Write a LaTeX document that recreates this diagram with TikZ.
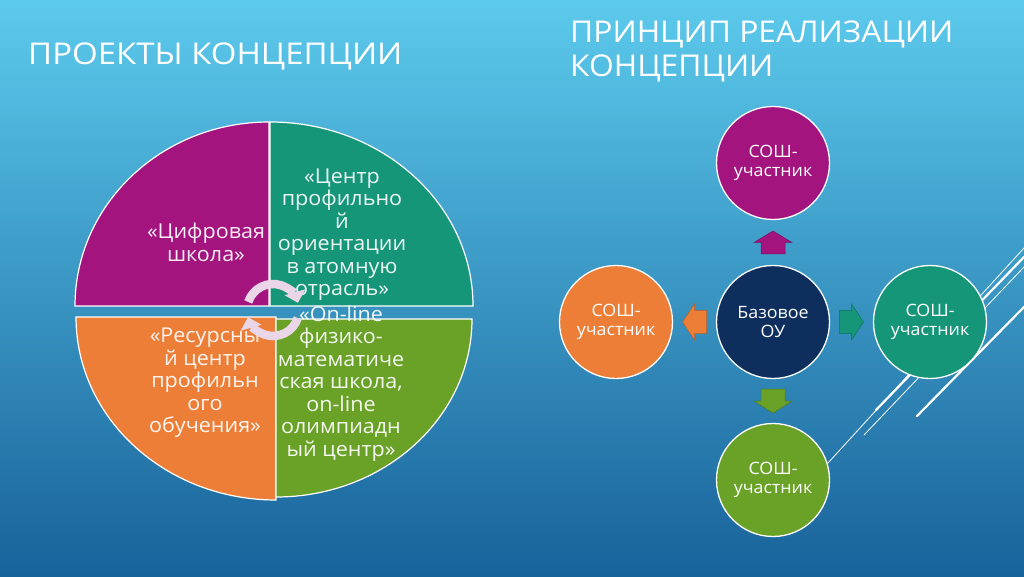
\documentclass[tikz,border=0pt]{standalone}
\usepackage{fontspec}
\setmainfont[FakeStretch=1.05]{Open Sans}
\newfontfamily\titlefont[FakeStretch=1.1]{Open Sans}
\newfontfamily\titlefontB[FakeStretch=1.06]{Open Sans}
\usetikzlibrary{arrows.meta,calc}
\definecolor{cMag}{RGB}{163,20,127}
\definecolor{cTeal}{RGB}{22,150,120}
\definecolor{cOr}{RGB}{236,126,56}
\definecolor{cGr}{RGB}{106,162,40}
\definecolor{cNavy}{RGB}{14,46,94}
\definecolor{bgTop}{RGB}{92,202,236}
\definecolor{bgBot}{RGB}{24,98,154}
\definecolor{cArc}{RGB}{234,214,230}
\begin{document}
\begin{tikzpicture}[x=1pt,y=1pt,
 quad/.style={draw=white, line width=1.2pt},
 qtext/.style={text=white, text opacity=0.92, align=center, inner sep=0pt, font=\fontsize{20.5}{22.5}\selectfont},
 ball/.style={circle, draw=white, line width=1.3pt, minimum size=113pt, inner sep=0pt, text=white, align=center, font=\fontsize{17}{18.5}\selectfont},
 barrow/.style={line width=0.5pt},
 thinline/.style={draw=white, line width=0.8pt, line cap=round},
 thickline/.style={draw=white, line width=2.2pt, line cap=round},
 titletext/.style={text=white, anchor=base west, inner sep=0pt, font=\titlefont\fontsize{30}{34}\selectfont},
 titletextB/.style={text=white, anchor=base west, inner sep=0pt, font=\titlefontB\fontsize{30}{34}\selectfont},
 rotarrow/.style={draw=cArc, line width=8.5pt, -{Triangle[length=11pt,width=21pt]}}
]
\useasboundingbox (0,0) rectangle (1024,576);
\shade[top color=bgTop, bottom color=bgBot] (0,0) rectangle (1024,576);

% titles
\node[titletext] (t1) at (28,511) {ПРОЕКТЫ КОНЦЕПЦИИ};
\node[titletextB] (t2) at (570,533) {ПРИНЦИП РЕАЛИЗАЦИИ};
\node[titletextB] (t3) at (570,499) {КОНЦЕПЦИИ};

% decorative lines
\draw[thinline] (828,113) -- (1024,328);
\draw[thickline] (876,166) -- (1024,319);
\draw[thinline] (864,141) -- (1024,309);
\draw[thickline] (917,160) -- (1024,269);

% pie quadrants
\path[quad, fill=cMag] (269,270) -- (75,270) arc[start angle=180,end angle=90,x radius=194,y radius=184] -- cycle;
\path[quad, fill=cTeal] (270,270) -- (270,454) arc[start angle=90,end angle=0,x radius=203,y radius=184] -- cycle;
\path[quad, fill=cOr] (276,259) -- (76,259) arc[start angle=180,end angle=270,x radius=200,y radius=183] -- cycle;
\path[quad, fill=cGr] (276,257) -- (472,257) arc[start angle=0,end angle=-90,x radius=196,y radius=178] -- cycle;

\node[qtext] (q1) at (206,333.5) {«Цифровая\\школа»};
\node[qtext] (q2) at (342,341.5) {«Центр\\профильно\\й\\ориентации\\в атомную\\отрасль»};
\node[qtext] (q3) at (205,193) {«Ресурсны\\й центр\\профильн\\ого\\обучения»};
\node[qtext] (q4) at (341,192.5) {«On-line\\физико-\\математиче\\ская школа,\\on-line\\олимпиадн\\ый центр»};

% circular arrows
\coordinate (rc) at (273,266);
\draw[rotarrow] ([shift={(162:26)}]rc) arc[start angle=162,end angle=16,radius=26];
\draw[rotarrow] ([shift={(-18:26)}]rc) arc[start angle=-18,end angle=-164,radius=26];

% right diagram
\node[ball, fill=cNavy] (base) at (773,254) {Базовое\\ОУ};
\node[ball, fill=cMag] (top) at (773,413) {СОШ-\\участник};
\node[ball, fill=cOr] (left) at (616,254) {СОШ-\\участник};
\node[ball, fill=cTeal] (right) at (930,254) {СОШ-\\участник};
\node[ball, fill=cGr] (bot) at (773,96) {СОШ-\\участник};

\coordinate (aU) at ($(base)!0.5!(top)$);
\coordinate (aL) at ($(base)!0.5!(left)$);
\coordinate (aR) at ($(base)!0.5!(right)$);
\coordinate (aD) at ($(base)!0.5!(bot)$);
\path[barrow, fill=cMag, draw=cMag!75!black, shift={(aU)}, rotate=0]
  (-12,-11.5) -- (-12,0) -- (-19,0) -- (0,11.5) -- (19,0) -- (12,0) -- (12,-11.5) -- cycle;
\path[barrow, fill=cOr, draw=cOr!75!black, shift={(aL)}, rotate=90]
  (-11.5,-12) -- (-11.5,0) -- (-18,0) -- (0,12) -- (18,0) -- (11.5,0) -- (11.5,-12) -- cycle;
\path[barrow, fill=cTeal, draw=cTeal!75!black, shift={(aR)}, rotate=-90]
  (-11.5,-12) -- (-11.5,0) -- (-18,0) -- (0,12) -- (18,0) -- (11.5,0) -- (11.5,-12) -- cycle;
\path[barrow, fill=cGr, draw=cGr!75!black, shift={(aD)}, rotate=180]
  (-12,-12) -- (-12,0) -- (-19,0) -- (0,12) -- (19,0) -- (12,0) -- (12,-12) -- cycle;
\end{tikzpicture}
\end{document}
